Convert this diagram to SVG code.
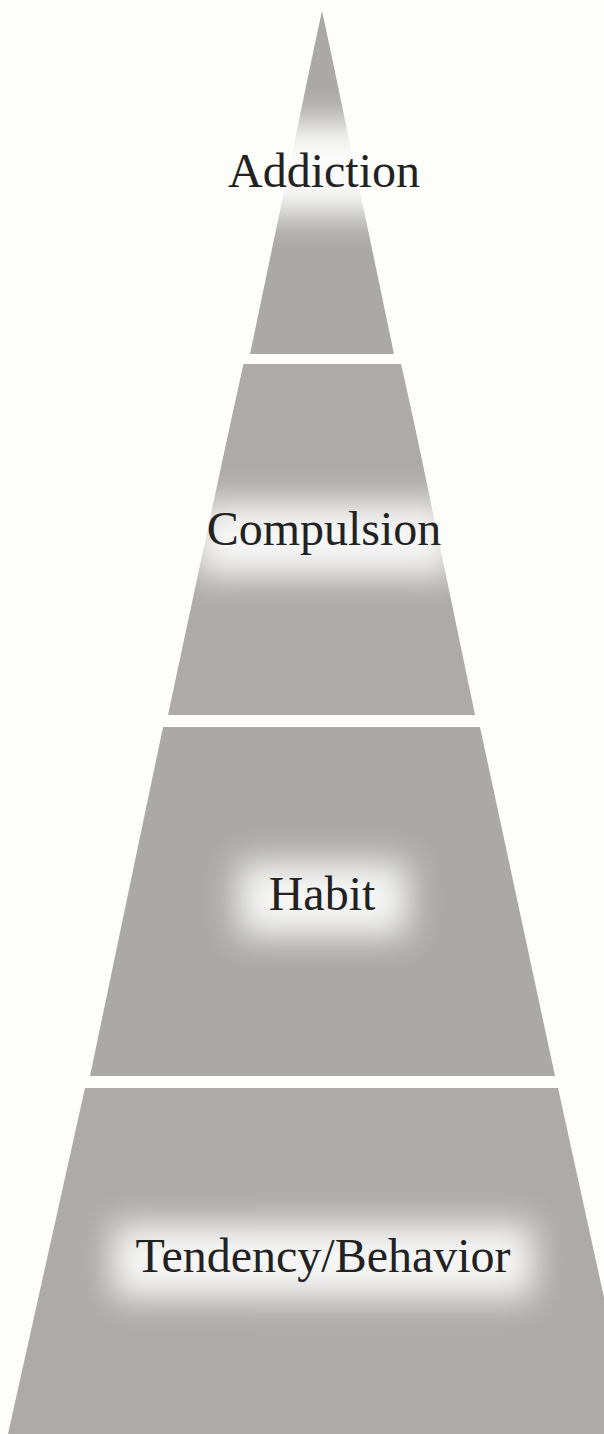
<svg xmlns="http://www.w3.org/2000/svg" width="604" height="1434" viewBox="0 0 604 1434">
  <defs>
    <filter id="glow" x="-50%" y="-100%" width="200%" height="300%">
      <feGaussianBlur stdDeviation="17"/>
    </filter>
    <clipPath id="pyr">
      <polygon points="322,10 640,1434 6,1434"/>
    </clipPath>
  </defs>
  <style>
    .bandA { fill: #aaa9a5; }
    .bandB { fill: #adaaa7; }
    .halo { fill: #ffffff; filter: url(#glow); }
    .label { font-family: "Liberation Serif", "DejaVu Serif", serif; font-size: 48px; fill: #222222; text-anchor: middle; }
  </style>
  <rect x="0" y="0" width="604" height="1434" fill="#fdfdfa"/>
  <g id="addiction">
    <g clip-path="url(#pyr)">
      <polygon class="bandA" points="322,10 394,354 250,354"/>
      <rect class="halo" x="215" y="122" width="220" height="92" opacity="0.95"/>
    </g>
    <text class="label" x="324" y="187">Addiction</text>
  </g>
  <g id="compulsion">
    <g clip-path="url(#pyr)">
      <polygon class="bandB" points="243,364 402,364 475,715 168,715"/>
      <rect class="halo" x="195" y="502" width="260" height="74" opacity="0.9"/>
    </g>
    <text class="label" x="324" y="545">Compulsion</text>
  </g>
  <g id="habit">
    <g clip-path="url(#pyr)">
      <polygon class="bandA" points="163,727 480,727 555,1076 90,1076"/>
      <rect class="halo" x="238" y="862" width="170" height="74" opacity="0.9"/>
    </g>
    <text class="label" x="322" y="910">Habit</text>
  </g>
  <g id="tendency">
    <g clip-path="url(#pyr)">
      <polygon class="bandB" points="85,1088 558,1088 634,1434 8,1434"/>
      <rect class="halo" x="112" y="1224" width="422" height="74" opacity="0.9"/>
    </g>
    <text class="label" x="323" y="1272">Tendency/Behavior</text>
  </g>
</svg>
